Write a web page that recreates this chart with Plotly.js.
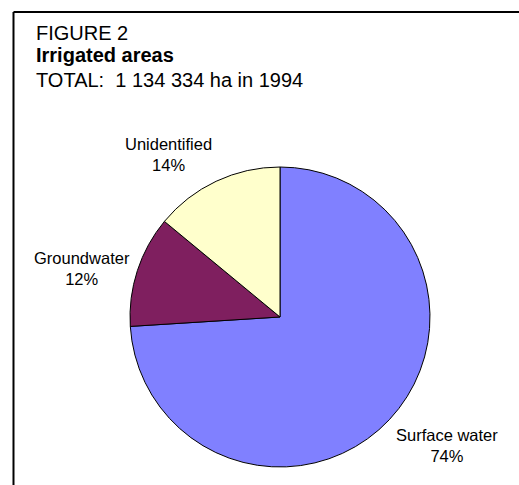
<!DOCTYPE html>
<html>
<head>
<meta charset="utf-8">
<script src="https://cdn.plot.ly/plotly-3.0.1.min.js"></script>
<style>html,body{margin:0;padding:0;background:#fff;}#chart{width:519px;height:485px;}</style>
</head>
<body>
<div id="chart"></div>
<script>
const categories = ["Surface water", "Groundwater", "Unidentified"];
const shares = [74, 12, 14];
const sliceColors = ["#8080FF", "#7F1F5F", "#FFFFCC"];
const titleLines = ["FIGURE 2", "<b>Irrigated areas</b>", "TOTAL:  1 134 334 ha in 1994"];

const font = "Arial, 'Liberation Sans', sans-serif";
const W = 519, H = 485;
const pieDomain = {x: [0.2505, 0.8285], y: [0.0371, 0.6557]};

const trace = {
  type: "pie",
  labels: categories,
  values: shares,
  sort: false,
  direction: "clockwise",
  rotation: 0,
  marker: {colors: sliceColors, line: {color: "#000", width: 1}},
  textinfo: "none",
  domain: pieDomain,
  hoverinfo: "none",
  showlegend: false
};

// Outside data labels placed from each slice's mid-angle (derived from the data)
const cx = (pieDomain.x[0] + pieDomain.x[1]) / 2 * W;
const cy = (1 - (pieDomain.y[0] + pieDomain.y[1]) / 2) * H;
const r = (pieDomain.x[1] - pieDomain.x[0]) * W / 2;
const total = shares.reduce((a, b) => a + b, 0);
const gap = 6;
let cum = 0;
const labelAnns = shares.map((v, i) => {
  const mid = (cum + v / 2) / total * 2 * Math.PI;
  cum += v;
  const sx = Math.sin(mid), sy = -Math.cos(mid);
  const px = cx + (r + gap) * sx, py = cy + (r + gap) * sy;
  const pct = Math.round(v / total * 100);
  return {
    text: categories[i] + "<br>" + pct + "%",
    xref: "paper", yref: "paper", x: px / W, y: 1 - py / H,
    xanchor: sx > 0.3 ? "left" : (sx < -0.3 ? "right" : "center"),
    yanchor: sy > 0.5 ? "top" : (sy < -0.5 ? "bottom" : "middle"),
    align: "center", showarrow: false,
    font: {family: font, size: 16.5, color: "#000"}
  };
});

const titleY = [0.932, 0.886, 0.836];
const titleAnns = titleLines.map((t, i) => ({
  text: t, xref: "paper", yref: "paper", x: 0.0655, y: titleY[i],
  xanchor: "left", yanchor: "middle", showarrow: false,
  font: {family: font, size: 20, color: "#000"}
}));

const layout = {
  width: W, height: H,
  margin: {l: 0, r: 0, t: 0, b: 0},
  paper_bgcolor: "#fff",
  showlegend: false,
  annotations: titleAnns.concat(labelAnns),
  shapes: [
    {type: "line", xref: "paper", yref: "paper", x0: 0.026, x1: 1.0, y0: 0.9755, y1: 0.9755, line: {color: "#000", width: 2}},
    {type: "line", xref: "paper", yref: "paper", x0: 0.026, x1: 0.026, y0: 0.9755, y1: 0, line: {color: "#000", width: 2}}
  ]
};

Plotly.newPlot("chart", [trace], layout, {displayModeBar: false, staticPlot: true});
</script>
</body>
</html>
